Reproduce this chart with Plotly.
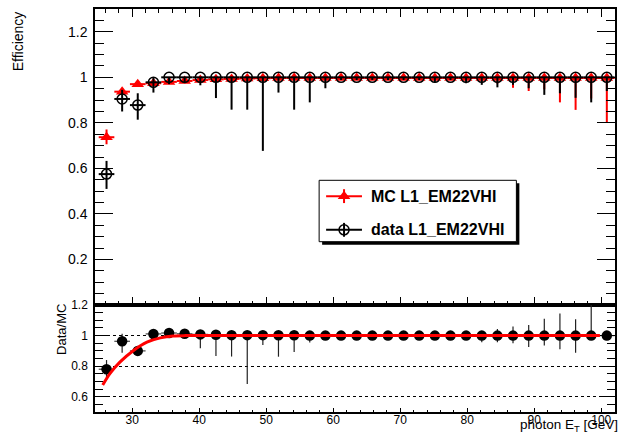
import plotly.graph_objects as go

# ---------------- data ----------------
XC = [26.17, 28.50, 30.83, 33.17, 35.50, 37.83, 40.17, 42.50, 44.83, 47.17, 49.50,
      51.83, 54.17, 56.50, 58.83, 61.17, 63.50, 65.83, 68.17, 70.50, 72.83, 75.17,
      77.50, 79.83, 82.17, 84.50, 86.83, 89.17, 91.50, 93.83, 96.17, 98.50, 100.83]
BIN_HALF = 1.1667

MC_EFF = [0.737, 0.937, 0.970, 0.974, 0.980, 0.984, 0.988, 0.991, 0.993, 0.995, 0.996,
          0.997, 0.997, 0.997, 0.997, 0.997, 0.997, 0.997, 0.997, 0.997, 0.997, 0.997,
          0.997, 0.997, 0.997, 0.997, 0.997, 0.997, 0.997, 0.997, 0.997, 0.997, 0.997]
MC_UP = [0.034, 0.015, 0.010, 0.008, 0.007, 0.006, 0.005, 0.004, 0.004, 0.003, 0.003,
         0.003, 0.003, 0.003, 0.003, 0.003, 0.003, 0.003, 0.003, 0.003, 0.003, 0.003,
         0.003, 0.003, 0.003, 0.003, 0.003, 0.003, 0.003, 0.003, 0.003, 0.003, 0.003]
MC_DN = [0.031, 0.015, 0.010, 0.010, 0.008, 0.007, 0.006, 0.006, 0.006, 0.006, 0.005,
         0.005, 0.005, 0.005, 0.005, 0.005, 0.005, 0.005, 0.005, 0.005, 0.006, 0.007,
         0.008, 0.010, 0.015, 0.025, 0.043, 0.057, 0.050, 0.107, 0.140, 0.090, 0.197]

DATA_EFF = [0.575, 0.905, 0.878, 0.978, 1.0, 1.0, 1.0, 1.0, 1.0, 1.0, 1.0,
            1.0, 1.0, 1.0, 1.0, 1.0, 1.0, 1.0, 1.0, 1.0, 1.0, 1.0,
            1.0, 1.0, 1.0, 1.0, 1.0, 1.0, 1.0, 1.0, 1.0, 1.0, 1.0]
DATA_UP = [0.058, 0.040, 0.052, 0.022, 0, 0, 0, 0, 0, 0, 0,
           0, 0, 0, 0, 0, 0, 0, 0, 0, 0, 0,
           0, 0, 0, 0, 0, 0, 0, 0, 0, 0, 0]
DATA_DN = [0.065, 0.055, 0.064, 0.045, 0.030, 0.026, 0.035, 0.091, 0.142, 0.142, 0.323,
           0.067, 0.142, 0.110, 0.048, 0.012, 0.012, 0.012, 0.012, 0.012, 0.012, 0.023,
           0.012, 0.026, 0.033, 0.044, 0.033, 0.048, 0.077, 0.070, 0.090, 0.110, 0.060]

RATIO = [0.780, 0.963, 0.900, 1.011, 1.017, 1.012, 1.008, 1.006, 1.003, 1.003, 1.003,
         1.002, 1.002, 1.000, 1.000, 1.000, 1.000, 1.000, 1.000, 1.000, 1.000, 1.000,
         1.000, 1.000, 1.000, 1.000, 1.000, 1.000, 1.000, 1.000, 1.000, 1.000, 1.000]
RATIO_UP = [0.060, 0.050, 0.025, 0.010, 0.010, 0.010, 0.006, 0.005, 0.005, 0.005, 0.005,
            0.005, 0.005, 0.005, 0.010, 0.008, 0.008, 0.008, 0.008, 0.008, 0.008, 0.008,
            0.008, 0.008, 0.012, 0.043, 0.060, 0.069, 0.110, 0.144, 0.107, 0.250, 0.0]
RATIO_DN = [0.070, 0.075, 0.030, 0.010, 0.010, 0.030, 0.090, 0.140, 0.140, 0.320, 0.065,
            0.140, 0.110, 0.045, 0.015, 0.010, 0.010, 0.010, 0.010, 0.010, 0.010, 0.010,
            0.010, 0.015, 0.043, 0.043, 0.050, 0.075, 0.065, 0.090, 0.112, 0.0, 0.0]

FIT_X = [25.6, 26.7, 28.2, 30.2, 32.2, 34.2, 36.1, 38.0, 40.0, 60.0, 80.0, 99.8]
FIT_Y = [0.677, 0.753, 0.828, 0.903, 0.957, 0.985, 0.998, 1.000, 1.000, 1.000, 1.000, 1.000]

X_TICKS = [30, 40, 50, 60, 70, 80, 90, 100]
TOP_Y_TICKS = [0.2, 0.4, 0.6, 0.8, 1.0, 1.2]
TOP_Y_TEXT = ["0.2", "0.4", "0.6", "0.8", "1", "1.2"]
BOT_Y_TICKS = [0.6, 0.8, 1.0, 1.2]
BOT_Y_TEXT = ["0.6", "0.8", "1", "1.2"]

LEG_LABELS = ["MC L1_EM22VHI", "data L1_EM22VHI"]

# ---------------- figure ----------------
FONT = "Liberation Sans, Arial, Helvetica, sans-serif"
W, H = 619, 437
ML, MR, MT, MB = 95, 2, 5, 25
PW, PH = W - ML - MR, H - MT - MB
SPLIT = 108 / PH
XR = [24.45, 102.05]

fig = go.Figure()

fig.add_trace(go.Scatter(
    x=XC, y=MC_EFF, mode="markers", xaxis="x", yaxis="y",
    marker=dict(symbol="triangle-up", size=11, color="#ff0000"),
    error_y=dict(type="data", array=MC_UP, arrayminus=MC_DN, color="#ff0000", thickness=2, width=0),
    error_x=dict(type="constant", value=BIN_HALF, color="#ff0000", thickness=2, width=0),
    showlegend=False))
fig.add_trace(go.Scatter(
    x=XC, y=DATA_EFF, mode="markers", xaxis="x", yaxis="y",
    marker=dict(symbol="circle-open", size=10, color="black", line=dict(width=1.5, color="black")),
    error_y=dict(type="data", array=DATA_UP, arrayminus=DATA_DN, color="black", thickness=2, width=0),
    error_x=dict(type="constant", value=BIN_HALF, color="black", thickness=2, width=0),
    showlegend=False))

fig.add_trace(go.Scatter(
    x=XC, y=RATIO, mode="markers", xaxis="x2", yaxis="y2",
    marker=dict(symbol="circle", size=10.5, color="black"),
    error_y=dict(type="data", array=RATIO_UP, arrayminus=RATIO_DN, color="#222222", thickness=1.2, width=0),
    error_x=dict(type="constant", value=BIN_HALF, color="#444444", thickness=1.2, width=0),
    showlegend=False))
fig.add_trace(go.Scatter(
    x=FIT_X, y=FIT_Y, mode="lines", xaxis="x2", yaxis="y2",
    line=dict(color="#ff0000", width=3, shape="spline", smoothing=0.8),
    showlegend=False))

# legend overlay in pixel coordinates
LX, LY = [345, 345], [194, 228]
fig.add_trace(go.Scatter(x=[LX[0]], y=[LY[0]], mode="markers", xaxis="x3", yaxis="y3",
                         marker=dict(symbol="triangle-up", size=11, color="#ff0000"), showlegend=False))
fig.add_trace(go.Scatter(x=[LX[1]], y=[LY[1]], mode="markers", xaxis="x3", yaxis="y3",
                         marker=dict(symbol="circle-open", size=10, color="black",
                                     line=dict(width=1.5, color="black")), showlegend=False))

shapes = [
    dict(type="rect", xref="x3", yref="y3", x0=323, y0=181, x1=521, y1=243,
         fillcolor="black", line=dict(width=0), layer="below"),
    dict(type="rect", xref="x3", yref="y3", x0=320, y0=178, x1=518, y1=240,
         fillcolor="white", line=dict(width=1, color="black"), layer="below"),
]
for (cx, cy, col) in [(LX[0], LY[0], "#ff0000"), (LX[1], LY[1], "black")]:
    shapes.append(dict(type="line", xref="x3", yref="y3", x0=327, x1=363, y0=cy, y1=cy,
                       line=dict(color=col, width=2), layer="below"))
    shapes.append(dict(type="line", xref="x3", yref="y3", x0=cx, x1=cx, y0=cy - 7, y1=cy + 7,
                       line=dict(color=col, width=2), layer="below"))

annotations = []
for lab, cy in zip(LEG_LABELS, LY):
    annotations.append(dict(xref="x3", yref="y3", x=370, y=cy, text="<b>%s</b>" % lab,
                            showarrow=False, xanchor="left", yanchor="middle",
                            font=dict(family=FONT, size=16, color="black")))

annotations.append(dict(xref="paper", yref="paper", x=(18 - ML) / PW, y=1.0,
                        text="Efficiency", textangle=-90, showarrow=False,
                        xanchor="center", yanchor="top",
                        font=dict(family=FONT, size=14, color="black")))
annotations.append(dict(xref="paper", yref="paper", x=(62 - ML) / PW, y=(MT + PH - 329) / PH,
                        text="Data/MC", textangle=-90, showarrow=False,
                        xanchor="center", yanchor="middle",
                        font=dict(family=FONT, size=13, color="black")))
annotations.append(dict(xref="paper", yref="paper", x=(W + 2 - ML) / PW, y=(MT + PH - 416) / PH,
                        text="photon E<sub>T</sub> [GeV]", showarrow=False,
                        xanchor="right", yanchor="top", borderpad=0,
                        font=dict(family=FONT, size=13.5, color="black")))

axis_common = dict(showline=True, linecolor="black", linewidth=1.5, ticks="inside",
                   tickcolor="black", showgrid=False, zeroline=False)

fig.update_layout(
    width=W, height=H,
    margin=dict(l=ML, r=MR, t=MT, b=MB, pad=0),
    paper_bgcolor="white", plot_bgcolor="rgba(0,0,0,0)",
    font=dict(family=FONT, color="black"),
    xaxis=dict(domain=[0, 1], anchor="y", range=XR, tickvals=X_TICKS, showticklabels=False,
               ticklen=8, tickwidth=1, mirror="allticks",
               minor=dict(dtick=2, tick0=0, ticklen=4, ticks="inside", tickcolor="black", showgrid=False),
               **axis_common),
    yaxis=dict(domain=[SPLIT, 1], anchor="x", range=[0, 1.3], tickvals=TOP_Y_TICKS, ticktext=TOP_Y_TEXT,
               ticklen=18, tickwidth=1.2, mirror="allticks", tickfont=dict(size=14),
               ticklabelstandoff=3,
               minor=dict(dtick=0.05, tick0=0, ticklen=9, ticks="inside", tickcolor="black", showgrid=False),
               **axis_common),
    xaxis2=dict(domain=[0, 1], anchor="y2", range=XR, tickvals=X_TICKS, ticklen=4, tickwidth=1,
                mirror=True, tickfont=dict(size=12), ticklabelstandoff=-4,
                minor=dict(dtick=2, tick0=0, ticklen=2, ticks="inside", tickcolor="black", showgrid=False),
                **axis_common),
    yaxis2=dict(domain=[0, SPLIT], anchor="x2", range=[0.5, 1.2], tickvals=BOT_Y_TICKS, ticktext=BOT_Y_TEXT,
                ticklen=15, tickwidth=1.2, mirror="allticks", tickfont=dict(size=12),
                ticklabelstandoff=3,
                minor=dict(dtick=0.05, tick0=0, ticklen=8, ticks="inside", tickcolor="black", showgrid=False),
                showline=True, linecolor="black", linewidth=1.5, ticks="inside", tickcolor="black",
                showgrid=True, gridcolor="black", griddash="dot", gridwidth=1, zeroline=False),
    xaxis3=dict(domain=[0, 1], anchor="y3", range=[ML, W - MR], visible=False, fixedrange=True),
    yaxis3=dict(domain=[0, 1], anchor="x3", range=[MT + PH, MT], visible=False, fixedrange=True),
    shapes=shapes, annotations=annotations,
)

fig.write_html("out.html")
